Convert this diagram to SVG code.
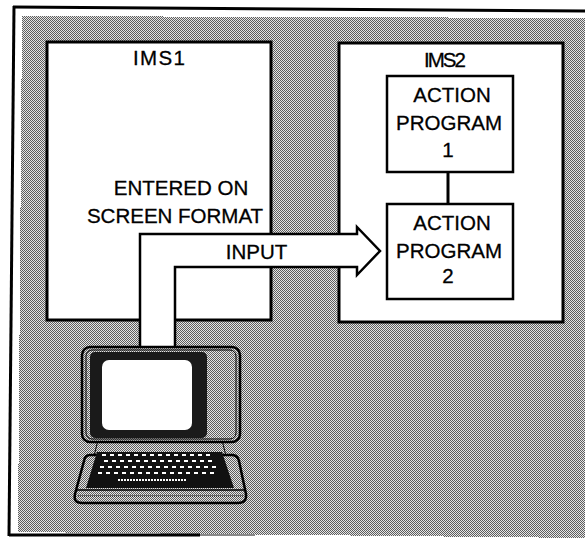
<svg xmlns="http://www.w3.org/2000/svg" width="585" height="538" viewBox="0 0 585 538">
  <defs>
    <!-- fine halftone screen used for the background and terminal body -->
    <pattern id="ht" width="2" height="2" patternUnits="userSpaceOnUse">
      <rect width="2" height="2" fill="#e6e6e6"/>
      <rect width="1" height="1" fill="#5e5e5e"/>
      <rect x="1" y="1" width="1" height="1" fill="#5e5e5e"/>
    </pattern>
    <style>
      .box { fill: #fff; stroke: #000; stroke-width: 3; }
      .prog { fill: #fff; stroke: #000; stroke-width: 2.5; }
      .lbl { font-family: "Liberation Sans", Arial, Helvetica, sans-serif; font-size: 20.5px; fill: #000; text-anchor: middle; stroke: #000; stroke-width: 0.3; }
      .keys { stroke: #fff; stroke-width: 2; stroke-dasharray: 4 4; fill: none; }
    </style>
  </defs>

  <!-- page -->
  <rect width="585" height="538" fill="#fff"/>
  <!-- shaded field and frame -->
  <polygon points="22,16 585,18 585,538 18,532" fill="url(#ht)" shape-rendering="crispEdges"/>
  <g fill="none" stroke="#000" stroke-width="3">
    <line x1="13" y1="7" x2="585" y2="11"/>
    <line x1="14" y1="6" x2="9" y2="536"/>
    <line x1="9" y1="535" x2="200" y2="535"/>
  </g>
  <line x1="200" y1="535" x2="255" y2="535" stroke="#888" stroke-width="2"/>

  <!-- IMS1 -->
  <g id="ims1">
    <rect class="box" x="47" y="42" width="224" height="278"/>
    <text class="lbl" x="159" y="65" textLength="52">IMS1</text>
    <text class="lbl" x="181" y="195">ENTERED ON</text>
    <text class="lbl" x="175" y="223">SCREEN FORMAT</text>
  </g>

  <!-- IMS2 -->
  <g id="ims2">
    <rect class="box" x="339" y="43" width="224" height="279"/>
    <text class="lbl" x="445" y="67" textLength="42">IMS2</text>
  </g>

  <g id="action-program-1">
    <rect class="prog" x="387" y="76" width="126" height="96"/>
    <text class="lbl" x="452" y="102">ACTION</text>
    <text class="lbl" x="449" y="130">PROGRAM</text>
    <text class="lbl" x="448" y="157">1</text>
  </g>

  <g id="action-program-2">
    <rect class="prog" x="387" y="204" width="126" height="95"/>
    <text class="lbl" x="452" y="230">ACTION</text>
    <text class="lbl" x="449" y="258">PROGRAM</text>
    <text class="lbl" x="448" y="283">2</text>
  </g>

  <!-- connectors -->
  <g id="connectors">
    <line x1="448" y1="172" x2="448" y2="204" stroke="#000" stroke-width="3"/>
    <path d="M140,348 V234 H357 V227 L380,251 L357,275 V267 H175 V348 Z" fill="#fff" stroke="#000" stroke-width="2.5" stroke-linejoin="miter"/>
    <text class="lbl" x="256.5" y="259">INPUT</text>
  </g>

  <!-- terminal -->
  <g id="terminal">
    <!-- neck -->
    <polygon points="98,440 222,440 226,456 94,456" fill="url(#ht)" stroke="#000" stroke-width="1"/>
    <!-- keyboard base -->
    <path d="M90,455 L233,455 Q238,456 239,461 L246,494 Q247,503 238,503 L82,503 Q73,503 75,494 L84,461 Q85,455 90,455 Z" fill="url(#ht)" stroke="#000" stroke-width="2.5"/>
    <line x1="76" y1="490" x2="245" y2="490" stroke="#000" stroke-width="1.5"/>
    <line x1="78" y1="496" x2="244" y2="496" stroke="#000" stroke-width="1" stroke-dasharray="1 1"/>
    <!-- key field -->
    <polygon points="97,452 222,452 234,488 86,488" fill="#111"/>
    <line class="keys" x1="102" y1="455" x2="212" y2="455"/>
    <line class="keys" x1="104" y1="461" x2="214" y2="461"/>
    <line class="keys" x1="100" y1="467" x2="218" y2="467"/>
    <line class="keys" x1="98" y1="473" x2="214" y2="473"/>
    <line x1="118" y1="480" x2="187" y2="480" stroke="#fff" stroke-width="2" stroke-dasharray="2 1"/>
    <!-- monitor housing -->
    <rect x="82" y="347" width="158" height="95" rx="8" fill="url(#ht)" stroke="#000" stroke-width="2.5"/>
    <rect x="86" y="350" width="150" height="89" rx="6" fill="none" stroke="#000" stroke-width="1"/>
    <!-- bezel and screen -->
    <rect x="90" y="352" width="117" height="86" rx="5" fill="#1a1a1a"/>
    <rect x="102" y="360" width="90" height="70" rx="7" fill="#fff"/>
  </g>
</svg>
